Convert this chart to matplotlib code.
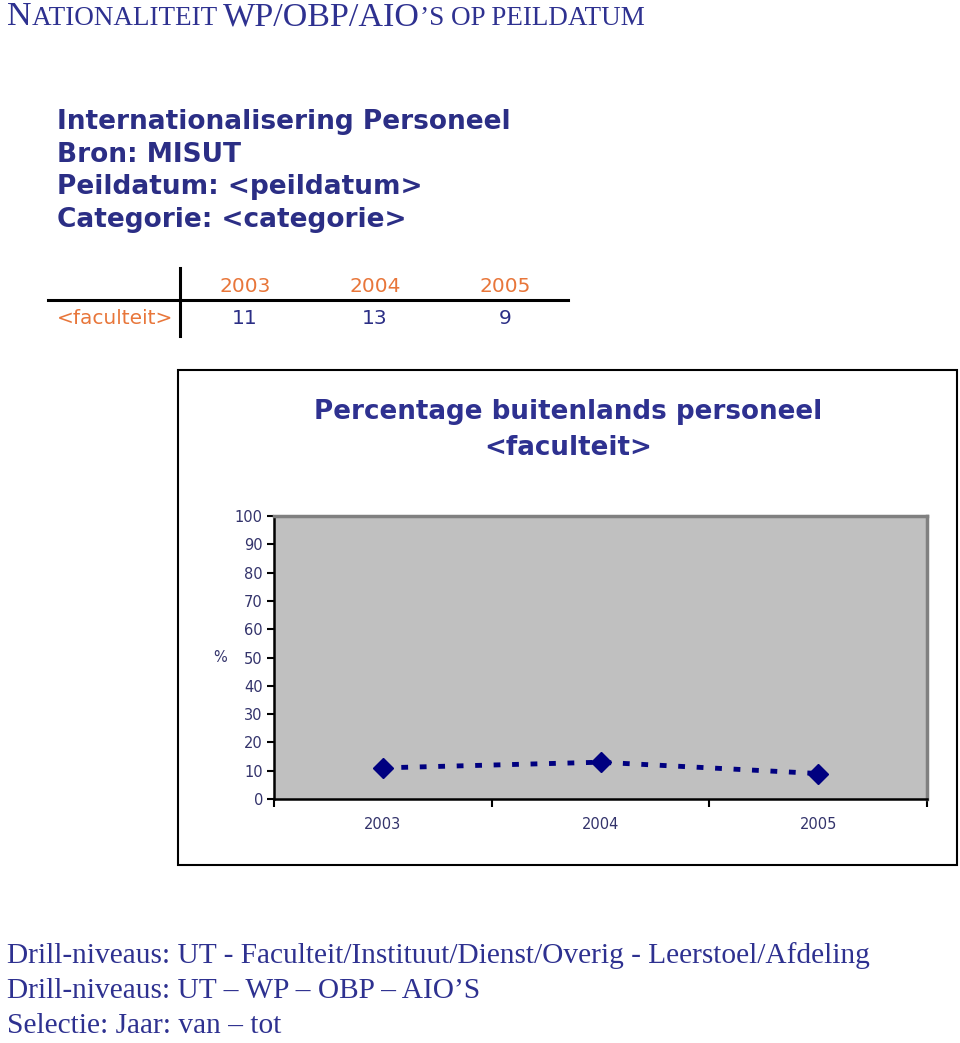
import matplotlib
matplotlib.use("Agg")
import matplotlib.pyplot as plt
from matplotlib.lines import Line2D
from matplotlib.patches import Rectangle

# ---- data ----
jaren = ["2003", "2004", "2005"]
percentages = [11, 13, 9]
rij_label = "<faculteit>"
kop_regels = ["Internationalisering Personeel", "Bron: MISUT",
              "Peildatum: <peildatum>", "Categorie: <categorie>"]
grafiek_titel = ["Percentage buitenlands personeel", "<faculteit>"]
voet_regels = ["Drill-niveaus: UT - Faculteit/Instituut/Dienst/Overig - Leerstoel/Afdeling",
               "Drill-niveaus: UT \u2013 WP \u2013 OBP \u2013 AIO\u2019S",
               "Selectie: Jaar: van \u2013 tot"]
titel_delen = [("N", True), ("ATIONALITEIT ", False), ("WP/OBP/AIO", True),
               ("\u2019S OP PEILDATUM", False)]

W, H = 960, 1043
NAVY = "#2e3190"
ORANJE = "#e8763a"


def fx(x):
    return x / W


def fy(y):
    return 1 - y / H


fig = plt.figure(figsize=(W / 100, H / 100), dpi=100)
renderer = fig.canvas.get_renderer()

# ---- titel in klein kapitaal ----
x = 7
for tekst, groot in titel_delen:
    t = fig.text(fx(x), fy(25), tekst, family="Liberation Serif",
                 fontsize=24.5 if groot else 19.5, color=NAVY, va="baseline")
    x += t.get_window_extent(renderer).width

# ---- kopblok ----
for i, regel in enumerate(kop_regels):
    fig.text(fx(57), fy(129 + i * 32.7), regel, family="DejaVu Sans",
             fontweight="bold", fontsize=19, color="#2b2e85", va="baseline")

# ---- tabel ----
fig.add_artist(Line2D([fx(180), fx(180)], [fy(268), fy(336)], color="black", lw=2.2))
fig.add_artist(Line2D([fx(48), fx(568)], [fy(300), fy(300)], color="black", lw=2.2))
kol_x = [245, 375, 505]
for xx, jaar, waarde in zip(kol_x, jaren, percentages):
    fig.text(fx(xx), fy(287), jaar, ha="center", va="center",
             fontsize=14.5, color=ORANJE)
    fig.text(fx(xx), fy(319), str(waarde), ha="center", va="center",
             fontsize=14.5, color="#2b2e85")
fig.text(fx(57), fy(319), rij_label, ha="left", va="center",
         fontsize=14.5, color=ORANJE)

# ---- grafiekkader ----
fig.add_artist(Rectangle((fx(178), fy(865)), fx(957) - fx(178), fy(370) - fy(865),
                         transform=fig.transFigure, facecolor="white",
                         edgecolor="black", lw=1.5, zorder=0))
fig.text(fx(568), fy(412), grafiek_titel[0], ha="center", va="center",
         fontweight="bold", fontsize=18.8, color=NAVY)
fig.text(fx(568), fy(448), grafiek_titel[1], ha="center", va="center",
         fontweight="bold", fontsize=18.8, color=NAVY)

ax = fig.add_axes([fx(274), fy(799), fx(927) - fx(274), fy(516) - fy(799)])
ax.set_facecolor("#c0c0c0")
xs = list(range(len(jaren)))
ax.plot(xs, percentages, color="#000080", lw=3.5, linestyle=(0, (1.4, 2.4)),
        marker="D", markersize=10)
ax.set_xlim(-0.5, len(jaren) - 0.5)
ax.set_ylim(0, 100)
ax.set_yticks(range(0, 101, 10))
ax.set_xticks(xs)
ax.set_xticklabels(jaren)
ax.set_xticks([i - 0.5 for i in range(len(jaren) + 1)], minor=True)
ax.tick_params(axis="x", which="major", length=0, pad=13, labelsize=10.5,
               labelcolor="#33336b")
ax.tick_params(axis="x", which="minor", length=6, width=1.5, direction="out")
ax.tick_params(axis="y", length=5, width=1.5, pad=3, labelsize=10.5,
               labelcolor="#33336b")
for s in ["left", "bottom"]:
    ax.spines[s].set_color("black")
    ax.spines[s].set_linewidth(1.8)
for s in ["top", "right"]:
    ax.spines[s].set_color("#808080")
    ax.spines[s].set_linewidth(2.5)
fig.text(fx(220), fy(657), "%", ha="center", va="center", fontsize=10.5,
         color="#33336b")

# ---- voettekst ----
for i, regel in enumerate(voet_regels):
    fig.text(fx(7), fy([963, 998, 1033][i]), regel, family="Liberation Serif",
             fontsize=21.2, color=NAVY, va="baseline")

fig.savefig("out.png", dpi=100, facecolor="white")
